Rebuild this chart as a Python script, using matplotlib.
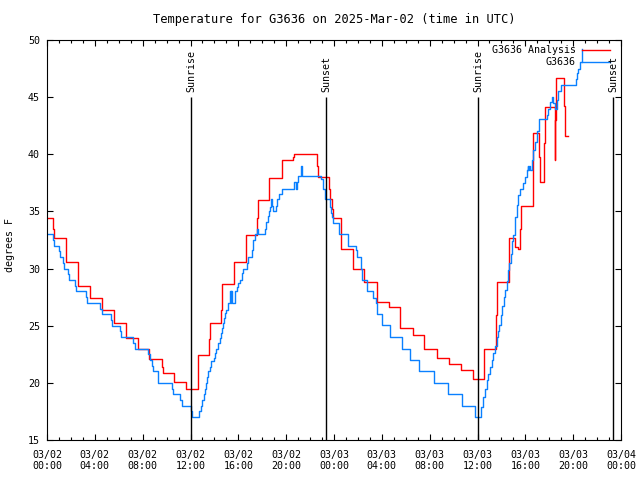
import numpy as np
import pandas as pd
import matplotlib
matplotlib.use("Agg")
import matplotlib.pyplot as plt
import matplotlib.dates as mdates
from matplotlib.lines import Line2D

# hours after 2025-03-02 00:00 UTC, value holds until next point
analysis_hours = [0.0, 0.53, 0.6, 1.56, 1.62, 2.56, 2.62, 3.56, 3.62, 4.57, 4.63, 5.57, 5.63,
                  6.58, 6.64, 7.58, 7.64, 8.56, 9.6, 9.66, 10.6, 11.6, 11.66, 12.6, 13.57, 13.63,
                  14.55, 14.6, 15.6, 16.6, 17.6, 17.65, 18.6, 19.62, 20.6, 20.65, 22.6, 22.65,
                  23.58, 23.68, 23.8, 23.9, 24.56, 25.56, 26.5, 27.57, 28.57, 29.5, 30.6, 31.5,
                  32.6, 33.6, 34.6, 35.6, 36.56, 37.55, 37.6, 38.6, 39.13, 39.4, 39.55, 39.6,
                  40.6, 41.13, 41.2, 41.6, 41.65, 42.47, 42.52, 42.56, 43.25, 43.3, 43.6]
analysis_temp = [34.4, 33.5, 32.65, 31.6, 30.55, 29.5, 28.45, 28.0, 27.4, 26.9, 26.4, 25.8, 25.2,
                 24.5, 23.9, 23.4, 23.0, 22.05, 21.4, 20.9, 20.05, 19.8, 19.5, 22.4, 23.87, 25.27,
                 26.4, 28.65, 30.6, 32.9, 34.4, 36.0, 37.9, 39.5, 39.8, 40.0, 38.95, 38.0,
                 37.0, 36.1, 35.2, 34.4, 31.7, 30.0, 28.8, 27.1, 26.6, 24.8, 24.2, 23.0,
                 22.15, 21.65, 21.1, 20.3, 23.0, 25.9, 28.85, 32.65, 31.9, 31.7, 33.5, 35.5,
                 41.9, 39.8, 37.6, 41.0, 44.1, 39.5, 43.0, 46.65, 44.2, 41.6, 41.6]

obs_hours = [0.0, 0.53, 0.61, 1.0, 1.09, 1.3, 1.45, 1.76, 1.87, 2.34, 2.42, 3.23, 3.32, 4.43,
             4.57, 5.35, 5.46, 6.1, 6.21, 7.22, 7.33, 8.47, 8.61, 8.75, 8.89, 9.31, 10.42,
             10.56, 11.12, 11.26, 12.01, 12.09, 12.71, 12.85, 12.99, 13.13, 13.21, 13.29,
             13.38, 13.49, 13.6, 13.71, 13.93, 14.05, 14.13, 14.33, 14.43, 14.52, 14.6,
             14.71, 14.83, 14.91, 15.0, 15.11, 15.28, 15.35, 15.4, 15.45, 15.72, 15.86, 16.0,
             16.14, 16.28, 16.36, 16.69, 16.83, 17.11, 17.25, 17.39, 17.59, 17.68, 18.2,
             18.3, 18.45, 18.55, 18.65, 18.7, 18.78, 18.87, 19.12, 19.22, 19.4, 19.62, 20.66,
             20.8, 20.87, 21.0, 21.24, 21.32, 22.9, 23.05, 23.24, 23.66, 23.74, 23.85, 23.94,
             24.44, 25.19, 25.83, 25.95, 26.25, 26.31, 26.73, 26.78, 27.23, 27.51, 27.62,
             28.04, 28.68, 29.71, 30.38, 31.13, 32.38, 33.55, 34.72, 35.78, 36.26, 36.43,
             36.62, 36.76, 36.9, 37.04, 37.18, 37.32, 37.46, 37.6, 37.68, 37.82, 37.93, 38.07,
             38.21, 38.29, 38.43, 38.57, 38.66, 38.77, 38.85, 38.99, 39.13, 39.27, 39.41,
             39.55, 39.83, 39.97, 40.1, 40.19, 40.25, 40.33, 40.4, 40.52, 40.66, 40.8, 41.0,
             41.16, 41.78, 41.92, 42.06, 42.2, 42.34, 42.47, 42.61, 42.75, 42.95, 44.2,
             44.32, 44.43, 44.57, 44.7]
obs_temp = [33.0, 32.5, 32.0, 31.5, 31.0, 30.5, 30.0, 29.5, 29.0, 28.5, 28.0, 27.5, 27.0, 26.5,
            26.0, 25.5, 25.0, 24.5, 24.0, 23.5, 23.0, 22.5, 22.0, 21.5, 21.0, 20.0, 19.5,
            19.0, 18.5, 18.0, 17.5, 17.0, 17.5, 18.0, 18.5, 19.0, 19.5, 20.0,
            20.5, 21.0, 21.4, 21.9, 22.2, 22.6, 23.0, 23.5, 23.9, 24.4, 24.8,
            25.2, 25.7, 26.1, 26.4, 27.0, 28.0, 27.0, 28.0, 27.0, 28.0, 28.4, 28.7,
            29.0, 29.6, 30.0, 30.5, 31.0, 31.6, 32.5, 33.0, 33.5, 33.0, 33.5,
            34.1, 34.6, 35.0, 35.4, 36.1, 35.5, 35.0, 35.5, 36.1, 36.5, 37.0, 37.6,
            37.0, 37.6, 38.1, 39.0, 38.1, 37.8, 37.0, 36.1, 35.4, 34.9, 34.5, 34.0,
            33.0, 32.0, 31.6, 31.0, 30.0, 29.0, 28.5, 28.0, 27.4, 27.0, 26.0,
            25.1, 24.0, 23.0, 22.0, 21.0, 20.0, 19.0, 18.0, 17.0, 17.9, 18.8,
            19.5, 20.25, 20.8, 21.4, 22.0, 22.6, 23.2, 24.0, 24.5, 25.1, 25.9, 26.7,
            27.5, 28.1, 28.9, 29.9, 30.5, 31.3, 32.4, 32.9, 34.5, 35.6, 36.4,
            37.0, 37.5, 38.0, 38.6, 39.0, 38.6, 39.0, 38.6, 39.5, 40.4, 41.1, 42.0,
            43.06, 43.4, 44.0, 44.6, 45.0, 44.5, 44.0, 44.75, 45.5, 46.1, 46.6,
            47.1, 47.5, 48.1, 49.2]

event_hours = [12.04, 23.33, 36.04, 47.33]
event_names = ["Sunrise", "Sunset", "Sunrise", "Sunset"]

series_names = ["G3636 Analysis", "G3636"]
series_colors = ["#ff0000", "#0a80ff"]
title = "Temperature for G3636 on 2025-Mar-02 (time in UTC)"
start = pd.Timestamp("2025-03-02 00:00")

plt.rcParams['font.family'] = ['DejaVu Sans Mono']
plt.rcParams['font.size'] = 7.2


def to_time(hours):
    return start + pd.to_timedelta(np.asarray(hours), unit="h")


fig = plt.figure(figsize=(6.4, 4.8), dpi=100)
ax = fig.add_axes([47 / 640, 40 / 480, 574 / 640, 400 / 480])

ax.plot(to_time(analysis_hours), analysis_temp, drawstyle="steps-post",
        color=series_colors[0], lw=1.0)
ax.plot(to_time(obs_hours), obs_temp, drawstyle="steps-post",
        color=series_colors[1], lw=1.0)

# sunrise / sunset markers
ev = to_time(event_hours)
ax.vlines(ev, 15, 45, color="black", lw=1.0)
for t, name in zip(ev, event_names):
    ax.text(t, 45.45, name, rotation=90, ha="center", va="bottom")

ax.set_xlim(start, start + pd.Timedelta(hours=48))
ax.set_ylim(15, 50)
ax.set_yticks(np.arange(15, 51, 5))
ax.xaxis.set_major_locator(mdates.HourLocator(byhour=range(0, 24, 4)))
ax.xaxis.set_minor_locator(mdates.HourLocator())
ax.xaxis.set_major_formatter(mdates.DateFormatter("%m/%d\n%H:%M"))
ax.tick_params(which="both", direction="in", top=True, right=True, color="black")
ax.tick_params(which="major", length=4.3, width=0.8)
ax.tick_params(which="minor", length=2.2, width=0.8)
ax.tick_params(axis="y", pad=5)
ax.tick_params(axis="x", pad=7)
for s in ax.spines.values():
    s.set_linewidth(0.8)

ax.set_title(title, pad=12)
fig.text(10 / 640, 1 - 245 / 480, "degrees F", rotation=90, ha="center", va="center")

# key, top right like gnuplot
for i, (name, col) in enumerate(zip(series_names, series_colors)):
    yk = 0.976 - i * 0.031
    ax.add_line(Line2D([0.932, 0.981], [yk, yk], color=col, lw=1.0, transform=ax.transAxes))
    ax.text(0.921, yk, name, ha="right", va="center", transform=ax.transAxes)

fig.savefig("out.png", dpi=100)
